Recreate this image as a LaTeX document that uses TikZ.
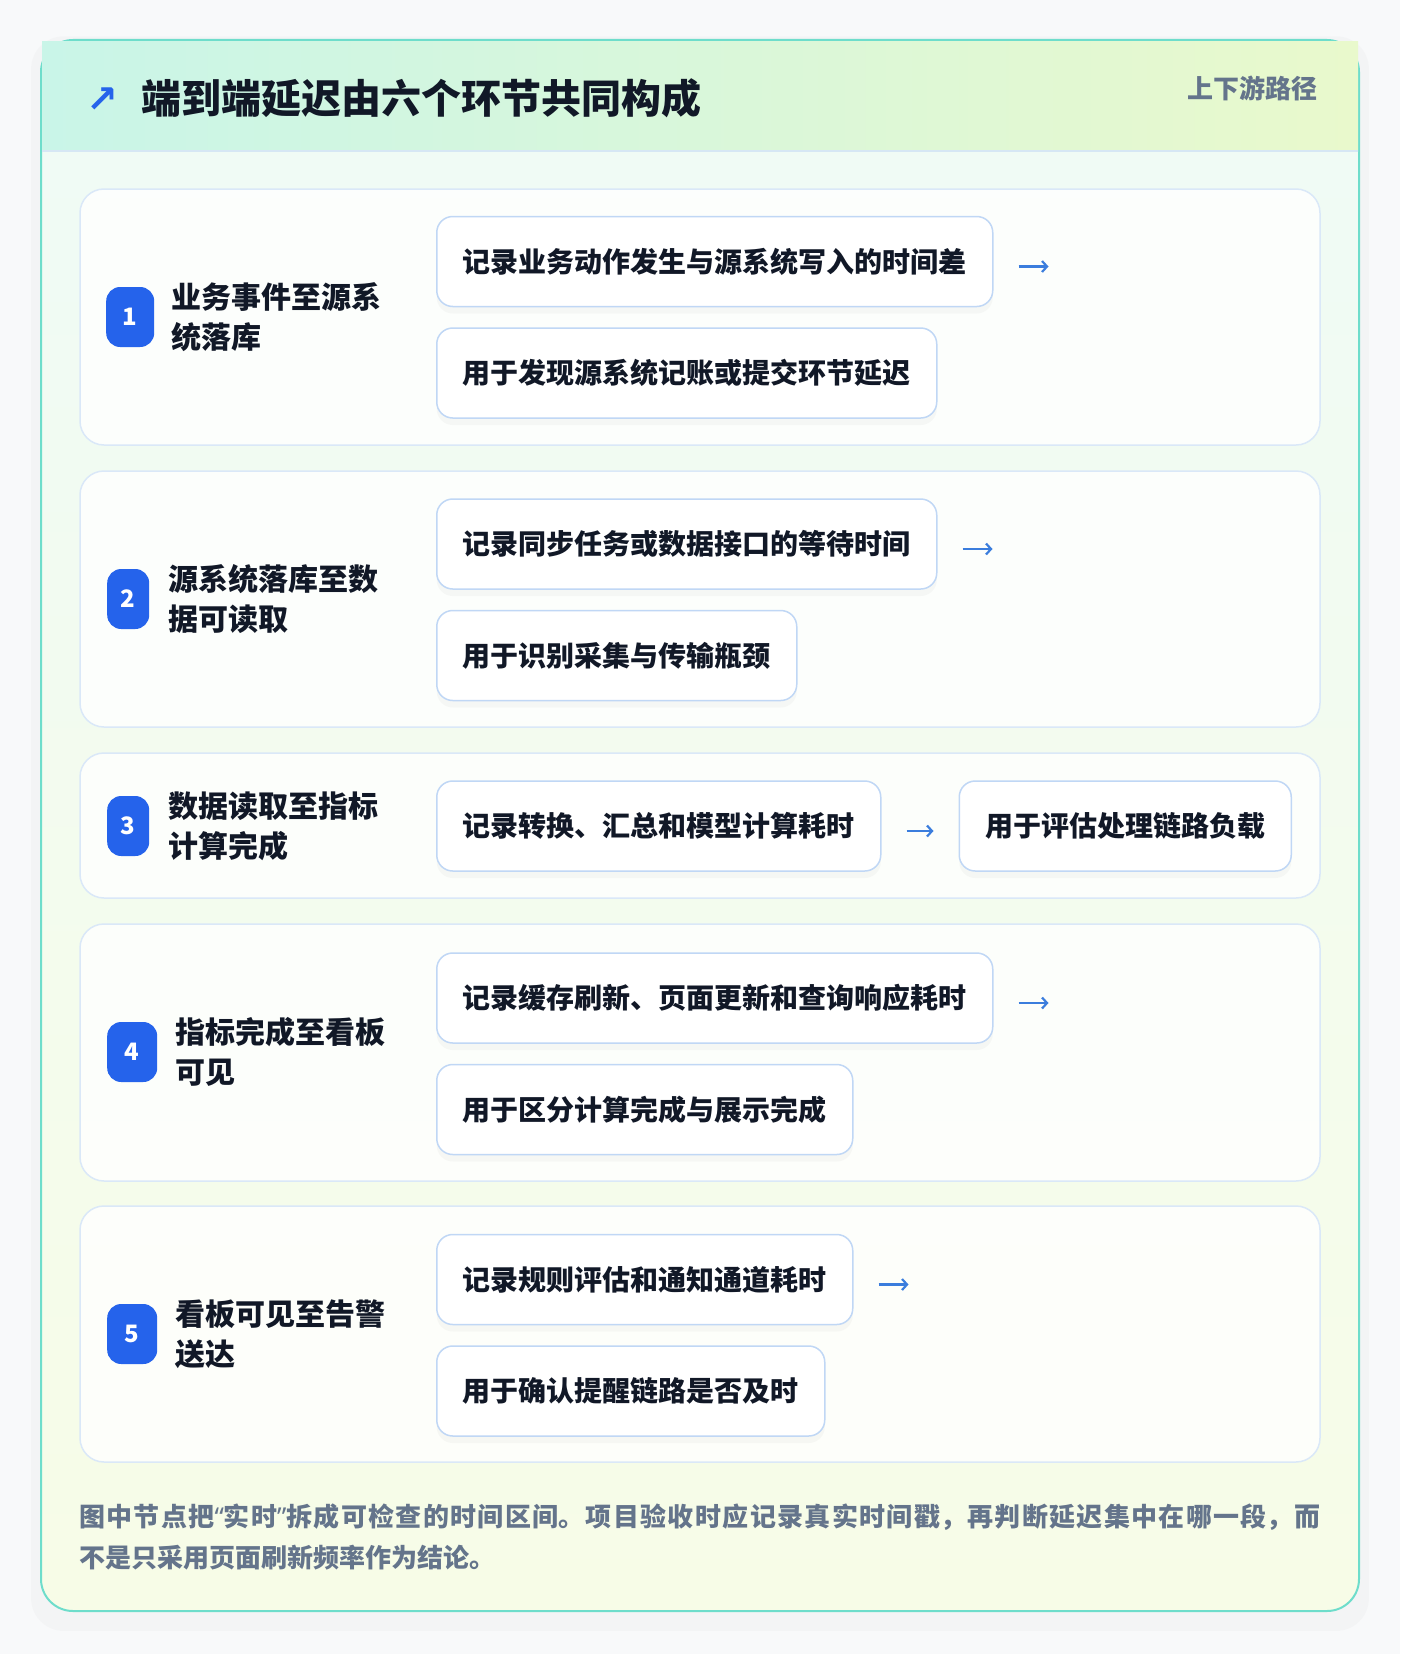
\documentclass[tikz,border=0pt]{standalone}
\usepackage{fontspec}
\setmainfont{Noto Sans CJK SC}
\newfontfamily\symfont{DejaVu Sans}
\newfontfamily\quotefont{Noto Sans}
\usetikzlibrary{positioning,arrows.meta,shadows}
\XeTeXlinebreaklocale "zh"
\XeTeXlinebreakskip=0pt plus 2pt

\definecolor{pagebg}{HTML}{F8F9FA}
\definecolor{cardline}{HTML}{6EDDCB}
\definecolor{headleft}{HTML}{C9F5E8}
\definecolor{headright}{HTML}{E9F9CC}
\definecolor{headline}{HTML}{D6E7F4}
\definecolor{bodytop}{HTML}{EFFBF6}
\definecolor{bodybot}{HTML}{F7FCE7}
\definecolor{stepline}{HTML}{DAE8F8}
\definecolor{boxline}{HTML}{C0D7F5}
\definecolor{badgeblue}{HTML}{2563EB}
\definecolor{ink}{HTML}{111827}
\definecolor{muted}{HTML}{64748B}
\definecolor{arrowblue}{HTML}{3B7DDD}

\tikzset{
  stepcard/.style={draw=stepline, line width=1.5pt, fill=white, fill opacity=.8,
    rounded corners=24pt, minimum width=1240pt, inner sep=0pt},
  badge/.style={fill=badgeblue, text=white, rounded corners=14pt, minimum height=60pt,
    inner sep=0pt, anchor=west, font=\fontsize{24}{24}\selectfont\bfseries},
  steplabel/.style={align=left, text=ink, inner sep=0pt,
    font=\fontsize{30}{40}\selectfont\bfseries},
  infobox/.style={draw=boxline, line width=1.5pt, fill=white, rounded corners=16pt,
    minimum height=90pt, inner xsep=26pt, inner ysep=0pt, anchor=west, text=ink,
    font=\fontsize{28}{34}\selectfont\bfseries,
    drop shadow={shadow xshift=0pt, shadow yshift=-7pt, opacity=.05}},
  flow/.style={arrowblue, line width=2.2pt, -{Straight Barb[length=5pt,width=11pt]}}
}

\begin{document}
\begin{tikzpicture}[x=1pt,y=-1pt]
\useasboundingbox (0,0) rectangle (1400,1654);
\fill[pagebg] (0,0) rectangle (1400,1654);
\path[rounded corners=32pt, top color=bodytop, bottom color=bodybot, draw=cardline, line width=2pt,
  drop shadow={shadow xshift=0pt, shadow yshift=-8pt, opacity=.035, shadow scale=1.015}]
  (41,40) rectangle (1359,1611);
\fill[left color=headleft, right color=headright] (42,42) rectangle (1358,151);
\draw[headline, line width=1.5pt] (42,151) -- (1358,151);

\node[text=badgeblue, font=\symfont\fontsize{38}{38}\selectfont\bfseries] (icon) at (102,100) {↗};
\node[anchor=west, inner sep=0pt, text=ink, font=\fontsize{40}{40}\selectfont\bfseries] (title) at (141,98) {端到端延迟由六个环节共同构成};
\node[anchor=east, inner sep=0pt, text=muted, font=\fontsize{26}{26}\selectfont\bfseries] (tag) at (1318,88) {上下游路径};

\node[stepcard, minimum height=256pt] (s1) at (700,317) {};
\node[stepcard, minimum height=256pt] (s2) at (700,599) {};
\node[stepcard, minimum height=145pt] (s3) at (700,825.5) {};
\node[stepcard, minimum height=257pt] (s4) at (700,1052.5) {};
\node[stepcard, minimum height=256pt] (s5) at (700,1334) {};

\node[badge, minimum width=48pt] (n1) at (106,317) {1};
\node[badge, minimum width=42pt] (n2) at (107,599) {2};
\node[badge, minimum width=42pt] (n3) at (107,826) {3};
\node[badge, minimum width=50pt] (n4) at (107,1052) {4};
\node[badge, minimum width=50pt] (n5) at (107,1334) {5};
\node[steplabel, right=17pt of n1] (l1) {业务事件至源系\\统落库};
\node[steplabel, right=19pt of n2] (l2) {源系统落库至数\\据可读取};
\node[steplabel, right=19pt of n3] (l3) {数据读取至指标\\计算完成};
\node[steplabel, right=18pt of n4] (l4) {指标完成至看板\\可见};
\node[steplabel, right=18pt of n5] (l5) {看板可见至告警\\送达};

\node[infobox] (a1) at (436,261.5) {记录业务动作发生与源系统写入的时间差};
\node[infobox, below right=20pt and 0pt of a1.south west] (b1) {用于发现源系统记账或提交环节延迟};
\coordinate (e1) at ([xshift=55pt,yshift=-5pt]a1.east);
\draw[flow] ([xshift=25pt,yshift=-5pt]a1.east) -- (e1);

\node[infobox] (a2) at (436,544) {记录同步任务或数据接口的等待时间};
\node[infobox, below right=20pt and 0pt of a2.south west] (b2) {用于识别采集与传输瓶颈};
\coordinate (e2) at ([xshift=55pt,yshift=-5pt]a2.east);
\draw[flow] ([xshift=25pt,yshift=-5pt]a2.east) -- (e2);

\node[infobox] (a3) at (436,826) {记录转换、汇总和模型计算耗时};
\node[infobox, right=77pt of a3] (b3) {用于评估处理链路负载};
\draw[flow, shorten <=25pt, shorten >=25pt] ([yshift=-5pt]a3.east) -- ([yshift=-5pt]b3.west);

\node[infobox] (a4) at (436,998) {记录缓存刷新、页面更新和查询响应耗时};
\node[infobox, below right=20pt and 0pt of a4.south west] (b4) {用于区分计算完成与展示完成};
\coordinate (e4) at ([xshift=55pt,yshift=-5pt]a4.east);
\draw[flow] ([xshift=25pt,yshift=-5pt]a4.east) -- (e4);

\node[infobox] (a5) at (436,1279.5) {记录规则评估和通知通道耗时};
\node[infobox, below right=20pt and 0pt of a5.south west] (b5) {用于确认提醒链路是否及时};
\coordinate (e5) at ([xshift=55pt,yshift=-5pt]a5.east);
\draw[flow] ([xshift=25pt,yshift=-5pt]a5.east) -- (e5);

\node[anchor=north west, text width=1241pt, align=justify, inner sep=0pt, text=muted,
  font=\fontsize{26}{41}\selectfont\bfseries] (note) at (79,1504)
  {图中节点把{\quotefont “}实时{\quotefont ”}拆成可检查的时间区间。项目验收时应记录真实时间戳，再判断延迟集中在哪一段，而\linebreak 不是只采用页面刷新频率作为结论。};
\end{tikzpicture}
\end{document}
